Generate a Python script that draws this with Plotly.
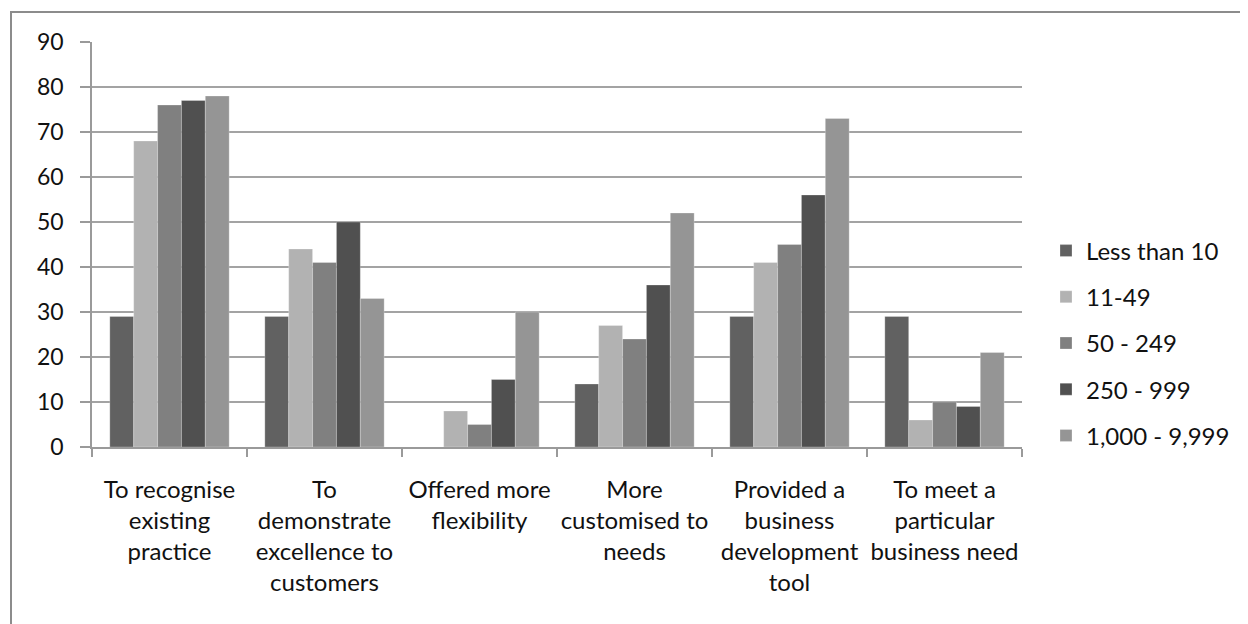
import plotly.graph_objects as go

categories = [
    "To recognise<br>existing<br>practice",
    "To<br>demonstrate<br>excellence to<br>customers",
    "Offered more<br>flexibility",
    "More<br>customised to<br>needs",
    "Provided a<br>business<br>development<br>tool",
    "To meet a<br>particular<br>business need",
]
series_names = ["Less than 10", "11-49", "50 - 249", "250 - 999", "1,000 - 9,999"]
less_than_10 = [29, 29, 0, 14, 29, 29]
s_11_49 = [68, 44, 8, 27, 41, 6]
s_50_249 = [76, 41, 5, 24, 45, 10]
s_250_999 = [77, 50, 15, 36, 56, 9]
s_1000_9999 = [78, 33, 30, 52, 73, 21]
series_values = [less_than_10, s_11_49, s_50_249, s_250_999, s_1000_9999]
colors = ["#616161", "#b2b2b2", "#808080", "#505050", "#959595"]
y_ticks = [0, 10, 20, 30, 40, 50, 60, 70, 80, 90]

FONT = "Lato, 'Liberation Sans', sans-serif"

fig = go.Figure()
for i, (name, vals, col) in enumerate(zip(series_names, series_values, colors)):
    fig.add_trace(go.Bar(
        x=categories, y=vals, name=name, legendgroup=f"g{i}",
        marker=dict(color=col, line=dict(color="rgba(255,255,255,0.5)", width=0.5)),
    ))

# page body has an 8px margin, so figure coords = screen coords - 8
OFF = 8
W, H = 1240, 616
L, T = 92 - OFF, 42 - OFF
R = W - (1022 - OFF)
B = H - (447 - OFF)
pw, ph = W - L - R, H - T - B

def px_x(x):
    return (x - OFF - L) / pw

def px_y(y):
    return (H - B - (y - OFF)) / ph

fig.update_layout(
    width=W, height=H,
    margin=dict(l=L, r=R, t=T, b=B, autoexpand=False),
    paper_bgcolor="white", plot_bgcolor="white",
    barmode="group", bargap=0.23, bargroupgap=0,
    font=dict(family=FONT, size=24, color="#111111"),
    showlegend=True,
    legend=dict(
        x=px_x(1046), y=px_y(343), xanchor="left", yanchor="middle",
        font=dict(family=FONT, size=24, color="#111111"),
        tracegroupgap=12, itemwidth=30,
        bgcolor="rgba(0,0,0,0)",
    ),
    xaxis=dict(
        type="category", showgrid=False, showline=True, linecolor="#9a9a9a", linewidth=1.5,
        ticks="outside", tickson="boundaries", ticklen=8, tickcolor="#9a9a9a", tickwidth=1.5,
        tickfont=dict(family=FONT, size=24, color="#111111"), ticklabelstandoff=20,
        tickangle=0, automargin=False, fixedrange=True,
    ),
    yaxis=dict(
        range=[0, 90], tickvals=y_ticks, showgrid=True, gridcolor="#a3a3a3", gridwidth=1.5,
        showline=True, linecolor="#9a9a9a", linewidth=1.5, zeroline=False,
        ticks="outside", ticklen=10, tickcolor="#9a9a9a", tickwidth=1.5,
        tickfont=dict(family=FONT, size=23, color="#111111"), ticklabelstandoff=12,
        automargin=False, fixedrange=True,
    ),
    shapes=[dict(
        type="rect", xref="paper", yref="paper",
        x0=px_x(11), x1=px_x(1270), y0=px_y(660), y1=px_y(12),
        line=dict(color="#8c8c8c", width=2), fillcolor="rgba(0,0,0,0)", layer="below",
    )],
)

fig.write_html("out.html")
